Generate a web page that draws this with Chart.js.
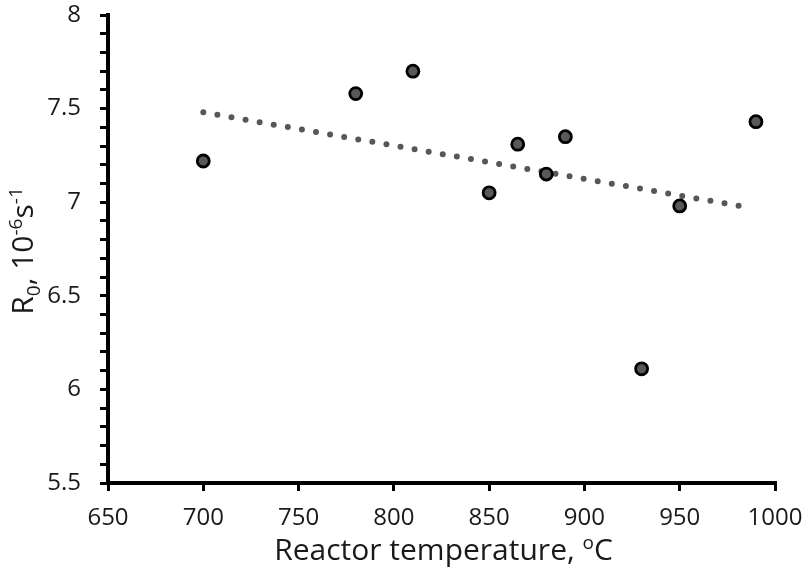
<!DOCTYPE html>
<html>
<head>
<meta charset="utf-8">
<script src="https://cdn.jsdelivr.net/npm/chart.js@4.4.1/dist/chart.umd.min.js"></script>
<style>
  html, body { margin: 0; padding: 0; background: #fff; }
  #wrap { width: 804px; height: 567px; }
</style>
</head>
<body>
<div id="wrap"><canvas id="c" width="804" height="567"></canvas></div>
<script>
// Data
const temperatures = [700, 780, 810, 850, 865, 880, 890, 930, 950, 990];
const r0Values = [7.22, 7.58, 7.70, 7.05, 7.31, 7.15, 7.35, 6.11, 6.98, 7.43];
// Linear trendline endpoints (as drawn in the reference)
const trendX = [700, 987];
const trendY = [7.48, 6.97];
// Axis ranges / ticks
const xTicks = [650, 700, 750, 800, 850, 900, 950, 1000];
const yMajorTicks = [5.5, 6, 6.5, 7, 7.5, 8];

const FONT = '"Open Sans", Lato, "DejaVu Sans", sans-serif';
const TEXT = '#1a1a1a';

function drawRich(ctx, parts, x, y) {
  let total = 0;
  parts.forEach(p => { ctx.font = p.size + 'px ' + FONT; p.w = ctx.measureText(p.t).width; total += p.w; });
  let cx = x - total / 2;
  parts.forEach(p => {
    ctx.font = p.size + 'px ' + FONT;
    ctx.fillText(p.t, cx, y + p.dy);
    cx += p.w;
  });
}

const titlePlugin = {
  id: 'richTitles',
  afterDraw(chart) {
    const ctx = chart.ctx;
    const area = chart.chartArea;
    ctx.save();
    ctx.fillStyle = TEXT;
    ctx.textBaseline = 'alphabetic';
    ctx.textAlign = 'left';
    // X title
    drawRich(ctx, [
      {t: 'Reactor temperature, ', size: 30, dy: 0},
      {t: 'o', size: 19, dy: -11},
      {t: 'C', size: 30, dy: 0}
    ], (area.left + area.right) / 2 + 2, 560);
    // Y title (rotated)
    ctx.translate(33, (area.top + area.bottom) / 2 + 2);
    ctx.rotate(-Math.PI / 2);
    drawRich(ctx, [
      {t: 'R', size: 30, dy: 0},
      {t: '0', size: 19, dy: 7},
      {t: ', 10', size: 30, dy: 0},
      {t: '-6', size: 19, dy: -11},
      {t: 's', size: 30, dy: 0},
      {t: '-1', size: 19, dy: -11}
    ], 0, 0);
    ctx.restore();
  }
};

const isMajor = v => Math.abs(v * 2 - Math.round(v * 2)) < 1e-6;

new Chart(document.getElementById('c'), {
  type: 'scatter',
  data: {
    datasets: [
      {
        label: 'R0',
        data: temperatures.map((t, i) => ({x: t, y: r0Values[i]})),
        backgroundColor: '#595959',
        borderColor: '#000',
        borderWidth: 2.8,
        pointRadius: 6,
        order: 0
      },
      {
        type: 'line',
        label: 'trend',
        data: trendX.map((t, i) => ({x: t, y: trendY[i]})),
        borderColor: '#575757',
        borderWidth: 6,
        borderDash: [0, 14.3],
        borderCapStyle: 'round',
        pointRadius: 0,
        fill: false,
        order: 1
      }
    ]
  },
  options: {
    responsive: false,
    animation: false,
    devicePixelRatio: 1,
    layout: { padding: { left: 0, top: 15, right: 29, bottom: 0 } },
    plugins: { legend: { display: false }, tooltip: { enabled: false } },
    scales: {
      x: {
        type: 'linear',
        min: xTicks[0],
        max: xTicks[xTicks.length - 1],
        afterBuildTicks: s => { s.ticks = xTicks.map(v => ({value: v})); },
        afterFit: s => { s.height = 84; s.paddingLeft = 0; s.paddingRight = 0; },
        border: { display: true, color: '#000', width: 4 },
        grid: { drawOnChartArea: false, drawTicks: true, tickLength: 8, color: '#000', lineWidth: 3 },
        ticks: {
          color: TEXT,
          font: { family: FONT, size: 24 },
          padding: 13,
          maxRotation: 0,
          autoSkip: false,
          callback: v => String(v)
        }
      },
      y: {
        type: 'linear',
        min: yMajorTicks[0],
        max: yMajorTicks[yMajorTicks.length - 1],
        ticks: {
          stepSize: 0.1,
          autoSkip: false,
          color: TEXT,
          font: { family: FONT, size: 24 },
          padding: 19,
          callback: v => isMajor(v) ? String(Number(v.toFixed(1))) : ''
        },
        afterFit: s => { s.width = 108; s.paddingTop = 0; s.paddingBottom = 0; },
        border: { display: true, color: '#000', width: 4 },
        grid: { drawOnChartArea: false, drawTicks: true, tickLength: 8, color: '#000', lineWidth: 3 }
      }
    }
  },
  plugins: [titlePlugin]
});
</script>
</body>
</html>
